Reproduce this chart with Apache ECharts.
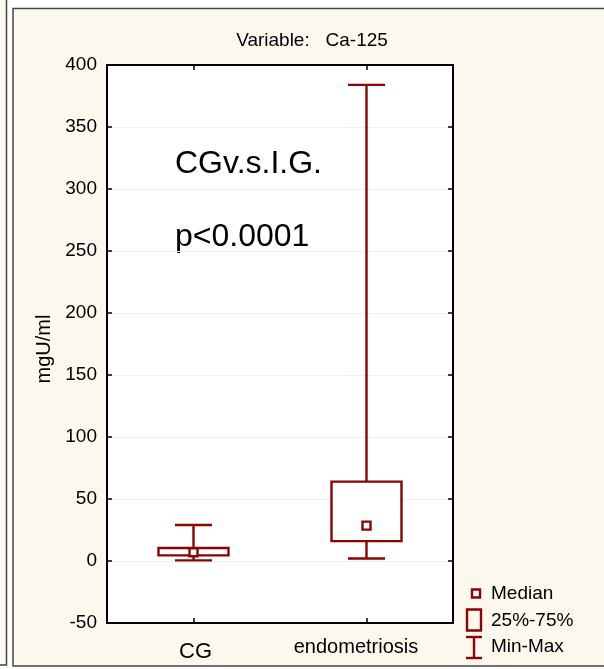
<!DOCTYPE html>
<html>
<head>
<meta charset="utf-8">
<script src="https://cdn.jsdelivr.net/npm/echarts@6/dist/echarts.min.js"></script>
<style>
html,body{margin:0;padding:0;background:#fff;}
#chart{width:604px;height:669px;}
</style>
</head>
<body>
<div id="chart"></div>
<script>
// ---- Data ----
const categories = ['CG', 'endometriosis'];
const minValues = [0.5, 2];
const q1Values = [4.5, 16];
const medianValues = [7, 28.5];
const q3Values = [10.5, 64];
const maxValues = [29, 384];
const yTicks = [-50, 0, 50, 100, 150, 200, 250, 300, 350, 400];

const RED = '#8a0404';
const FONT = '"Liberation Sans", Arial, sans-serif';
const LW = 2.4;

const boxData = categories.map((c, i) => [i, minValues[i], q1Values[i], medianValues[i], q3Values[i], maxValues[i]]);

const chart = echarts.init(document.getElementById('chart'), null, {renderer: 'canvas'});

function renderBox(params, api) {
  const idx = api.value(0);
  const pMin = api.coord([idx, api.value(1)]);
  const pQ1 = api.coord([idx, api.value(2)]);
  const pMed = api.coord([idx, api.value(3)]);
  const pQ3 = api.coord([idx, api.value(4)]);
  const pMax = api.coord([idx, api.value(5)]);
  const x = pMin[0];
  const boxHalf = 35, capHalf = 18.5, medHalf = 4;
  const st = {stroke: RED, lineWidth: LW, fill: null};
  return {
    type: 'group',
    children: [
      {type: 'line', shape: {x1: x, y1: pQ3[1], x2: x, y2: pMax[1]}, style: st},
      {type: 'line', shape: {x1: x - capHalf, y1: pMax[1], x2: x + capHalf, y2: pMax[1]}, style: st},
      {type: 'line', shape: {x1: x, y1: pQ1[1], x2: x, y2: pMin[1]}, style: st},
      {type: 'line', shape: {x1: x - capHalf, y1: pMin[1], x2: x + capHalf, y2: pMin[1]}, style: st},
      {type: 'rect', shape: {x: x - boxHalf, y: pQ3[1], width: boxHalf * 2, height: pQ1[1] - pQ3[1]}, style: {stroke: RED, lineWidth: LW, fill: '#fff'}},
      {type: 'rect', shape: {x: x - medHalf, y: pMed[1] - medHalf, width: medHalf * 2, height: medHalf * 2}, style: {stroke: RED, lineWidth: LW, fill: '#fff'}}
    ]
  };
}

const axisTick = {show: true, inside: true, length: 5, lineStyle: {color: '#000', width: 1.5}};

const option = {
  backgroundColor: '#fff',
  animation: false,
  title: {
    text: 'Variable:   Ca-125',
    left: 307, top: 26, textAlign: 'center',
    textStyle: {fontFamily: FONT, fontSize: 19, fontWeight: 'normal', color: '#000'}
  },
  grid: {
    left: 107, top: 65, width: 346, height: 558,
    show: true, backgroundColor: '#fff', borderColor: '#000', borderWidth: 2
  },
  xAxis: [{
    type: 'category', data: categories, position: 'bottom',
    axisLine: {show: true, onZero: false, lineStyle: {color: '#000', width: 2}},
    axisTick: Object.assign({alignWithLabel: true}, axisTick),
    axisLabel: {
      margin: 14,
      formatter: function (v) { return v === 'CG' ? '{a|' + v + '}' : '{b|' + v + '}'; },
      rich: {
        a: {fontFamily: FONT, fontSize: 22, color: '#000', padding: [4, 0, 0, 4]},
        b: {fontFamily: FONT, fontSize: 20, color: '#000', padding: [0, 21, 0, 0]}
      }
    }
  }, {
    type: 'category', data: categories, position: 'top',
    axisLine: {show: true, onZero: false, lineStyle: {color: '#000', width: 2}},
    axisTick: Object.assign({alignWithLabel: true}, axisTick),
    axisLabel: {show: false}
  }],
  yAxis: [{
    type: 'value', min: yTicks[0], max: yTicks[yTicks.length - 1], interval: 50,
    name: 'mgU/ml', nameLocation: 'middle', nameGap: 51, nameRotate: 90,
    nameTextStyle: {fontFamily: FONT, fontSize: 20, color: '#000', padding: [0, 10, 0, 0]},
    axisLine: {show: true, onZero: false, lineStyle: {color: '#000', width: 2}},
    axisTick: axisTick,
    axisLabel: {fontFamily: FONT, fontSize: 19, color: '#000', margin: 10},
    splitLine: {show: true, lineStyle: {color: '#f1f1f1', width: 1}}
  }, {
    type: 'value', min: yTicks[0], max: yTicks[yTicks.length - 1], interval: 50, position: 'right',
    axisLine: {show: true, onZero: false, lineStyle: {color: '#000', width: 2}},
    axisTick: axisTick,
    axisLabel: {show: false},
    splitLine: {show: false}
  }],
  series: [{
    type: 'custom',
    renderItem: renderBox,
    data: boxData,
    encode: {x: 0, y: [1, 2, 3, 4, 5]},
    z: 5
  }],
  graphic: [
    // page frame
    {type: 'rect', z: -10, shape: {x: 13, y: 8.5, width: 600, height: 657.5}, style: {fill: '#fdf8ee', stroke: '#444', lineWidth: 1.5}},
    {type: 'rect', z: -10, shape: {x: -5, y: -5, width: 11.5, height: 670}, style: {fill: '#fdf8ee', stroke: '#444', lineWidth: 1.5}},
    // annotations
    {type: 'text', x: 175, y: 164, style: {text: 'CGv.s.I.G.', font: '32px ' + FONT, fill: '#000', verticalAlign: 'middle'}},
    {type: 'text', x: 175, y: 237, style: {text: 'p<0.0001', font: '32px ' + FONT, fill: '#000', verticalAlign: 'middle'}},
    // legend
    {type: 'rect', shape: {x: 472, y: 589.5, width: 8, height: 8}, style: {stroke: RED, lineWidth: LW, fill: '#fff'}},
    {type: 'text', x: 491, y: 594, style: {text: 'Median', font: '19px ' + FONT, fill: '#000', verticalAlign: 'middle'}},
    {type: 'rect', shape: {x: 467, y: 609.5, width: 14, height: 21}, style: {stroke: RED, lineWidth: LW, fill: 'none'}},
    {type: 'text', x: 491, y: 621, style: {text: '25%-75%', font: '19px ' + FONT, fill: '#000', verticalAlign: 'middle'}},
    {type: 'line', shape: {x1: 466, y1: 637, x2: 482, y2: 637}, style: {stroke: RED, lineWidth: LW}},
    {type: 'line', shape: {x1: 474, y1: 637, x2: 474, y2: 658}, style: {stroke: RED, lineWidth: LW}},
    {type: 'line', shape: {x1: 466, y1: 658, x2: 482, y2: 658}, style: {stroke: RED, lineWidth: LW}},
    {type: 'text', x: 491, y: 647, style: {text: 'Min-Max', font: '19px ' + FONT, fill: '#000', verticalAlign: 'middle'}}
  ]
};
chart.setOption(option);
</script>
</body>
</html>
